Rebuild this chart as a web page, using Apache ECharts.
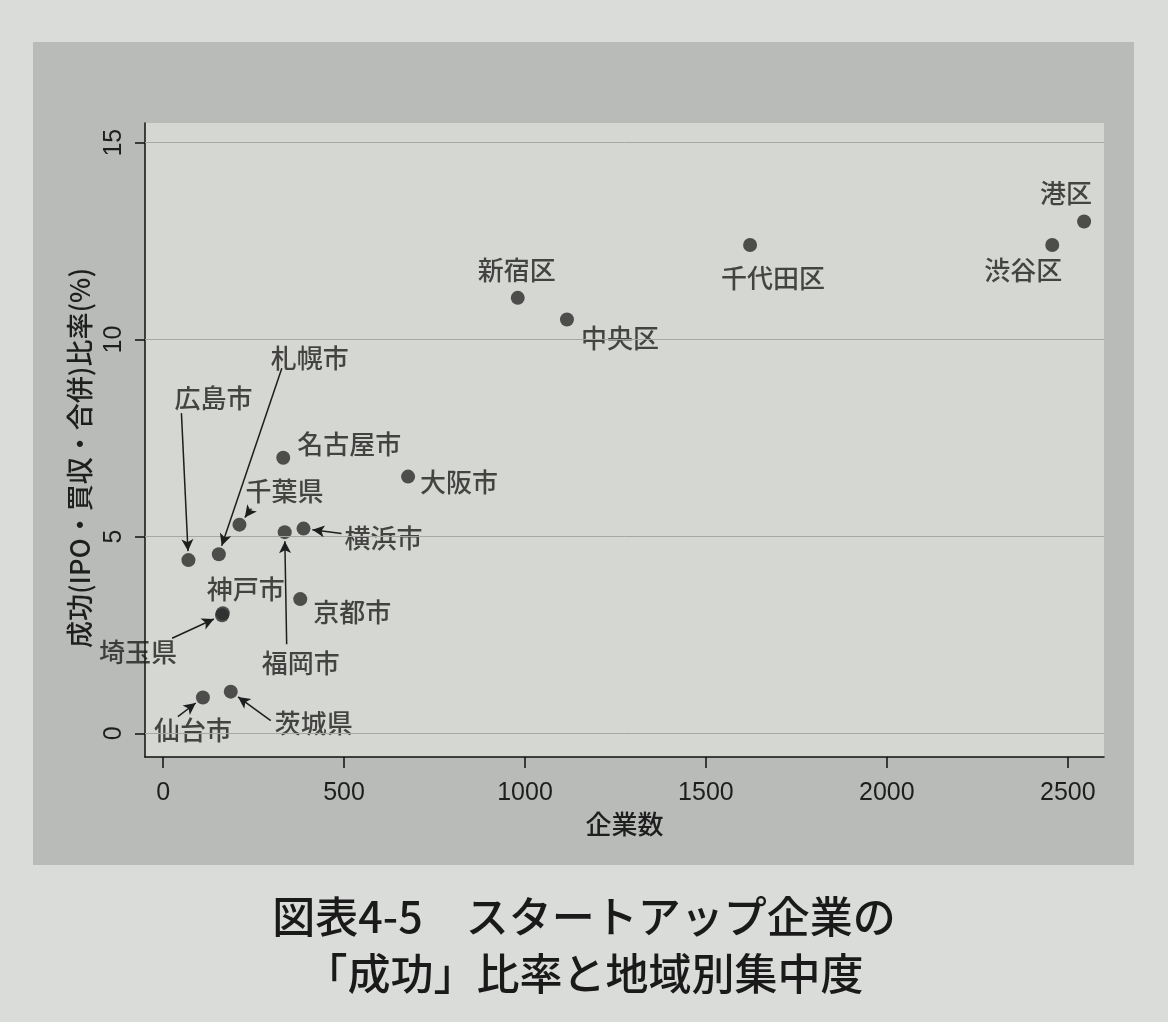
<!DOCTYPE html>
<html>
<head>
<meta charset="utf-8">
<script src="https://cdn.jsdelivr.net/npm/echarts@6/dist/echarts.min.js"></script>
<style>
  html, body { margin: 0; padding: 0; background: #dadcd9; }
  #main { width: 1168px; height: 1022px; }
</style>
</head>
<body>
<div id="main"></div>
<script>
// 地域ごとの企業数と「成功」比率(%)
var names = ['港区', '渋谷区', '千代田区', '新宿区', '中央区', '大阪市', '名古屋市', '千葉県',
             '札幌市', '広島市', '横浜市', '福岡市', '京都市', '神戸市', '埼玉県', '茨城県', '仙台市'];
var firms = [2545, 2457, 1622, 980, 1116, 677, 332, 211, 154, 70, 388, 336, 379, 165, 163, 187, 110];
var rates = [13.0, 12.4, 12.4, 11.06, 10.51, 6.52, 7.0, 5.3, 4.55, 4.4, 5.2, 5.11, 3.41, 3.05, 3.0, 1.06, 0.91];

var xTicks = [0, 500, 1000, 1500, 2000, 2500];
var yTicks = [0, 5, 10, 15];

// ラベルの位置 (点からのピクセル差)
var labelOffsets = [[-18, -28], [-29, 25], [23, 33], [-1, -28], [53, 19], [51, 6], [66, -14], [45, -34],
                    [91, -196], [25, -162], [80, 10], [16, 131], [52, 13], [23, -24], [-84, 37], [83, 31], [-10, 33]];
// 矢印の始点 (点からのピクセル差)、null は矢印なし
var arrowTails = [null, null, null, null, null, null, null, [12, -16],
                  [63, -186], [-7, -147], [38, 5], [2, 112], null, null, [-50, 23], [40, 29], [-25, 19]];

var textColor = '#1e1e1e';
var cjk = '"Noto Sans CJK JP", "Noto Sans", sans-serif';
var latin = '"Liberation Sans", Arial, sans-serif';

var chart = echarts.init(document.getElementById('main'));

var points = names.map(function (n, i) {
    return {
        name: n,
        value: [firms[i], rates[i]],
        label: { offset: labelOffsets[i] }
    };
});

chart.setOption({
    backgroundColor: '#dadcd9',
    animation: false,
    title: {
        text: '図表4-5　スタートアップ企業の\n「成功」比率と地域別集中度',
        left: 'center',
        top: 883,
        textStyle: {
            fontFamily: cjk,
            fontSize: 43,
            fontWeight: 500,
            lineHeight: 57,
            color: '#1a1a1a'
        }
    },
    graphic: [{
        type: 'rect',
        z: -100,
        silent: true,
        shape: { x: 33, y: 42, width: 1101, height: 823 },
        style: { fill: '#b9bbb8' }
    }],
    grid: {
        left: 145, right: 64, top: 123, bottom: 265,
        show: true,
        backgroundColor: '#d5d7d3',
        borderWidth: 0
    },
    xAxis: {
        type: 'value',
        min: -50,
        max: 2600,
        name: '企業数',
        nameLocation: 'middle',
        nameGap: 46,
        nameTextStyle: { fontFamily: cjk, fontSize: 26, fontWeight: 500, color: textColor },
        axisLine: { onZero: false, lineStyle: { color: '#111', width: 1.5 } },
        axisTick: { customValues: xTicks, length: 11, lineStyle: { color: '#111', width: 1.5 } },
        axisLabel: {
            customValues: xTicks, margin: 24, fontFamily: latin, fontSize: 25, color: textColor,
            formatter: function (v) { return String(v); }
        },
        splitLine: { show: false }
    },
    yAxis: {
        type: 'value',
        min: -0.6,
        max: 15.5,
        name: '成功(IPO・買収・合併)比率(%)',
        nameLocation: 'middle',
        nameRotate: 90,
        nameGap: 52,
        nameTextStyle: { fontFamily: cjk, fontSize: 27, fontWeight: 500, color: textColor, padding: [0, 36, 0, 0] },
        axisLine: { onZero: false, lineStyle: { color: '#111', width: 1.5 } },
        axisTick: { customValues: yTicks, length: 10, lineStyle: { color: '#111', width: 1.5 } },
        axisLabel: { customValues: yTicks, rotate: 90, margin: 18, fontFamily: latin, fontSize: 25, color: textColor },
        splitLine: { show: false }
    },
    series: [{
        // 目盛り線
        type: 'scatter',
        z: 1,
        data: [],
        markLine: {
            silent: true,
            symbol: 'none',
            animation: false,
            label: { show: false },
            lineStyle: { color: '#a6a8a4', width: 1, type: 'solid' },
            data: yTicks.map(function (v) { return { yAxis: v }; })
        }
    }, {
        type: 'scatter',
        z: 3,
        symbolSize: 14,
        itemStyle: { color: '#2b2b2b' },
        label: {
            show: true,
            position: 'inside',
            formatter: '{b}',
            fontFamily: cjk,
            fontSize: 26,
            fontWeight: 500,
            color: textColor
        },
        data: points
    }]
});

// 矢印: 点のピクセル位置から始点を求めて座標に戻す
var arrows = [];
names.forEach(function (n, i) {
    var t = arrowTails[i];
    if (!t) return;
    var p = chart.convertToPixel({ gridIndex: 0 }, [firms[i], rates[i]]);
    var len = Math.sqrt(t[0] * t[0] + t[1] * t[1]);
    var gap = 9;
    var head = [p[0] + t[0] / len * gap, p[1] + t[1] / len * gap];
    var tail = [p[0] + t[0], p[1] + t[1]];
    arrows.push([
        { coord: chart.convertFromPixel({ gridIndex: 0 }, tail), symbol: 'none' },
        { coord: chart.convertFromPixel({ gridIndex: 0 }, head), symbol: 'arrow', symbolSize: [9, 12] }
    ]);
});

chart.setOption({
    series: [{}, {
        markLine: {
            silent: true,
            animation: false,
            symbol: ['none', 'arrow'],
            symbolSize: 11,
            label: { show: false },
            lineStyle: { color: '#1e1e1e', width: 1.5, type: 'solid' },
            data: arrows
        }
    }]
});
</script>
</body>
</html>
